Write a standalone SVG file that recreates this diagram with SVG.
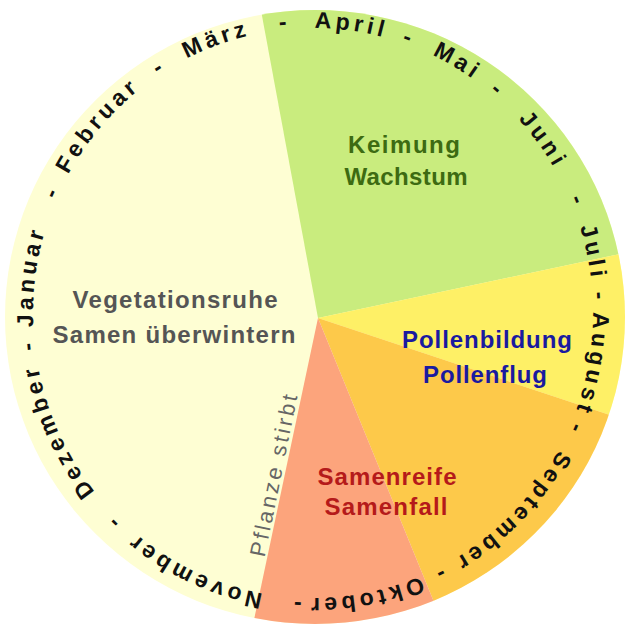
<svg xmlns="http://www.w3.org/2000/svg" xmlns:xlink="http://www.w3.org/1999/xlink" width="626" height="626" viewBox="0 0 626 626">
  <style>
    .lbl { font-family: "Liberation Sans", Arial, sans-serif; font-weight: bold; font-size: 24px; text-anchor: middle; }
    .month { font-family: "Liberation Sans", Arial, sans-serif; font-weight: bold; font-size: 23px; fill: #111; letter-spacing: 4px; text-anchor: middle; }
    .note { font-family: "Liberation Sans", Arial, sans-serif; font-size: 22px; fill: #666666; text-anchor: middle; }
  </style>
  <defs>
    <clipPath id="disc">
      <ellipse cx="315" cy="317" rx="310" ry="307"/>
    </clipPath>
    <path id="ring" d="M 33 313 A 280 285 0 0 1 593 313 A 280 285 0 0 1 33 313 A 280 285 0 0 1 593 313 A 280 285 0 0 1 33 313"/>
  </defs>
  <rect width="626" height="626" fill="#ffffff"/>
  <g id="wheel" clip-path="url(#disc)">
    <rect id="winter" x="0" y="0" width="626" height="626" fill="#fefed3"/>
    <polygon id="growth" points="318,318 250,-49 700,-49 700,237" fill="#c9ec7e"/>
    <polygon id="pollen" points="318,318 700,237 700,445" fill="#fef066"/>
    <polygon id="seed" points="318,318 700,445 700,700 474,700" fill="#fdc94a"/>
    <polygon id="ripe" points="318,318 474,700 237,700" fill="#fca47c"/>
  </g>
  <g id="months" class="month">
    <text><textPath href="#ring" xlink:href="#ring" startOffset="122.3">-</textPath></text>
    <text><textPath href="#ring" xlink:href="#ring" startOffset="201.2">Februar</textPath></text>
    <text><textPath href="#ring" xlink:href="#ring" startOffset="285">-</textPath></text>
    <text><textPath href="#ring" xlink:href="#ring" startOffset="346.6">März</textPath></text>
    <text><textPath href="#ring" xlink:href="#ring" startOffset="415.7">-</textPath></text>
    <text><textPath href="#ring" xlink:href="#ring" startOffset="481.3">April</textPath></text>
    <text><textPath href="#ring" xlink:href="#ring" startOffset="539.5">-</textPath></text>
    <text><textPath href="#ring" xlink:href="#ring" startOffset="591.8">Mai</textPath></text>
    <text><textPath href="#ring" xlink:href="#ring" startOffset="640.5">-</textPath></text>
    <text><textPath href="#ring" xlink:href="#ring" startOffset="706.2">Juni</textPath></text>
    <text><textPath href="#ring" xlink:href="#ring" startOffset="775.2">-</textPath></text>
    <text><textPath href="#ring" xlink:href="#ring" startOffset="827.5">Juli</textPath></text>
    <text><textPath href="#ring" xlink:href="#ring" startOffset="871.8">-</textPath></text>
    <text><textPath href="#ring" xlink:href="#ring" startOffset="937.8">August</textPath></text>
    <text><textPath href="#ring" xlink:href="#ring" startOffset="1004.6">-</textPath></text>
    <text><textPath href="#ring" xlink:href="#ring" startOffset="1107.2">September</textPath></text>
    <text><textPath href="#ring" xlink:href="#ring" startOffset="1202.7">-</textPath></text>
    <text><textPath href="#ring" xlink:href="#ring" startOffset="1278.6">Oktober</textPath></text>
    <text><textPath href="#ring" xlink:href="#ring" startOffset="1347.7">-</textPath></text>
    <text><textPath href="#ring" xlink:href="#ring" startOffset="1453.2">November</textPath></text>
    <text><textPath href="#ring" xlink:href="#ring" startOffset="1547.9">-</textPath></text>
    <text><textPath href="#ring" xlink:href="#ring" startOffset="1652.5">Dezember</textPath></text>
    <text><textPath href="#ring" xlink:href="#ring" startOffset="1743">-</textPath></text>
    <text><textPath href="#ring" xlink:href="#ring" startOffset="1810">Januar</textPath></text>
  </g>
  <g id="label-growth">
    <text class="lbl" x="404" y="153" fill="#3d6b12" textLength="112" lengthAdjust="spacing">Keimung</text>
    <text class="lbl" x="406" y="185" fill="#3d6b12" textLength="123" lengthAdjust="spacing">Wachstum</text>
  </g>
  <g id="label-winter">
    <text class="lbl" x="175" y="308" fill="#555555" textLength="205" lengthAdjust="spacing">Vegetationsruhe</text>
    <text class="lbl" x="174" y="343" fill="#555555" textLength="243" lengthAdjust="spacing">Samen überwintern</text>
  </g>
  <g id="label-pollen">
    <text class="lbl" x="487" y="348" fill="#1a1aa0" textLength="170" lengthAdjust="spacing">Pollenbildung</text>
    <text class="lbl" x="485" y="383" fill="#1a1aa0" textLength="124" lengthAdjust="spacing">Pollenflug</text>
  </g>
  <g id="label-seed">
    <text class="lbl" x="387" y="485" fill="#b51a1a" textLength="139" lengthAdjust="spacing">Samenreife</text>
    <text class="lbl" x="386" y="515" fill="#b51a1a" textLength="123" lengthAdjust="spacing">Samenfall</text>
  </g>
  <g id="label-death">
    <text class="note" transform="translate(281,477) rotate(-78.5)" x="0" y="0" textLength="165" lengthAdjust="spacing">Pflanze stirbt</text>
  </g>
</svg>
